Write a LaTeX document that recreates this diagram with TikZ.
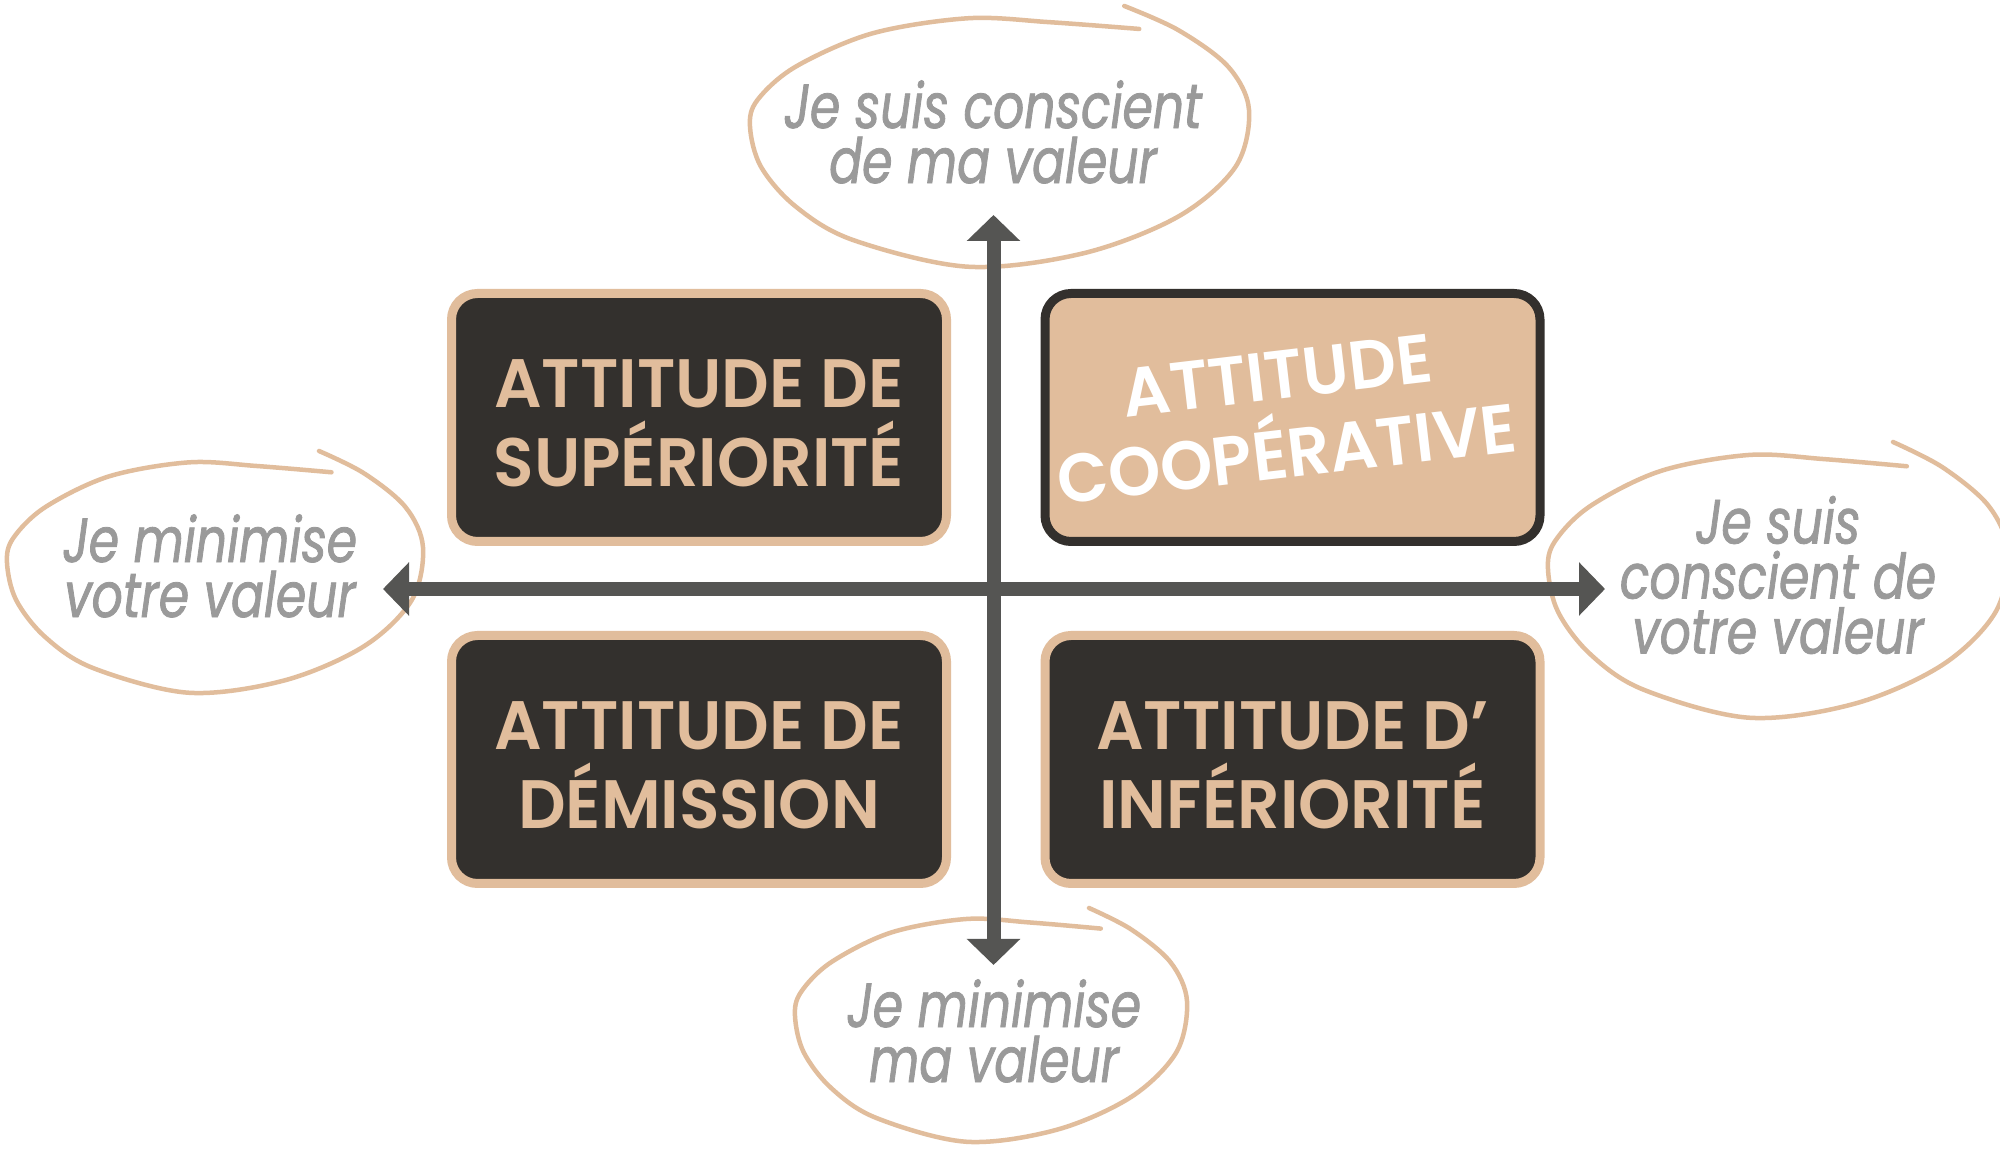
\documentclass[tikz,border=0pt]{standalone}
\usepackage{fontspec}
\usetikzlibrary{arrows.meta}
\newfontfamily\boxfont{Poppins}[BoldFont={* SemiBold}, FakeStretch=0.97]
\newfontfamily\bubfont{Poppins}[FakeStretch=0.78, FakeBold=1.3]
\definecolor{beige}{HTML}{E1BD9C}
\definecolor{darkbox}{HTML}{33302D}
\definecolor{arrowgray}{HTML}{555553}
\definecolor{textgray}{HTML}{9A9A9A}
\tikzset{
  quad/.style={draw=beige, fill=darkbox, line width=0.09cm, rounded corners=0.26cm,
    minimum width=4.95cm, minimum height=2.48cm, inner sep=0pt},
  quadhi/.style={quad, draw=darkbox, fill=beige},
  quadtext/.style={text=beige, font=\boxfont\bfseries\fontsize{19.5}{22.5}\selectfont,
    align=center, inner sep=0pt},
  quadtexthi/.style={quadtext, text=white},
  bubtext/.style={text=textgray, font=\bubfont\itshape\fontsize{17.8}{15.65}\selectfont,
    align=center, inner sep=0pt},
  bubline/.style={draw=beige, line width=0.045cm, line cap=round, line join=round},
  axisline/.style={draw=arrowgray, line width=0.14cm,
    {Triangle[length=0.26cm,width=0.52cm]}-{Triangle[length=0.26cm,width=0.52cm]}}
}
\newcommand{\mybubble}[4]{%
  \begin{scope}[shift={(#1,#2)}, x=#3cm, y=-#4cm]
    \draw[bubline] plot[smooth, tension=0.55] coordinates {
      (0.780,0.088) (0.60,0.062) (0.437,0.047) (0.245,0.105) (0.092,0.232)
      (0.015,0.360) (0.0,0.462) (0.022,0.616) (0.092,0.769) (0.207,0.897)
      (0.437,0.999) (0.667,0.948) (0.858,0.807) (0.973,0.616) (1.0,0.398)
      (0.958,0.232) (0.858,0.092) (0.750,0.0)};
  \end{scope}}
\begin{document}
\begin{tikzpicture}
  \fill[white] (0,0) rectangle (20,-11.5);
  \useasboundingbox (0,0) rectangle (20,-11.5);

  % bubbles
  \mybubble{7.50}{-0.06}{4.99}{2.61}
  \mybubble{0.07}{-4.51}{4.16}{2.42}
  \mybubble{7.95}{-9.08}{3.92}{2.34}
  \mybubble{15.48}{-4.42}{4.60}{2.76}

  \node[bubtext] (tbub) at (9.93,-1.32) {Je suis conscient\\de ma valeur};
  \node[bubtext] (lbub) at (2.10,-5.66) {Je minimise\\votre valeur};
  \node[bubtext] (bbub) at (9.94,-10.31) {Je minimise\\ma valeur};
  \node[bubtext] (rbub) at (17.78,-5.75) {Je suis\\conscient de\\votre valeur};

  % boxes
  \node[quad]   (tl) at (6.99,-4.175) {};
  \node[quadhi] (tr) at (12.925,-4.175) {};
  \node[quad]   (bl) at (6.99,-7.595) {};
  \node[quad]   (br) at (12.925,-7.595) {};

  \node[quadtext] (tlt) at (6.99,-4.235) {ATTITUDE DE\\SUPÉRIORITÉ};
  \node[quadtexthi, rotate=6.7] (trt) at (12.82,-4.15) {ATTITUDE\\COOPÉRATIVE};
  \node[quadtext] (blt) at (6.99,-7.65) {ATTITUDE DE\\DÉMISSION};
  \node[quadtext] (brt) at (12.925,-7.65) {ATTITUDE D’\\INFÉRIORITÉ};

  % axes
  \coordinate (vtop) at (9.935,-2.15);
  \coordinate (vbot) at (9.935,-9.65);
  \coordinate (hleft) at (3.83,-5.89);
  \coordinate (hright) at (16.05,-5.89);
  \draw[axisline] (vbot) -- (vtop);
  \draw[axisline] (hleft) -- (hright);
\end{tikzpicture}
\end{document}
